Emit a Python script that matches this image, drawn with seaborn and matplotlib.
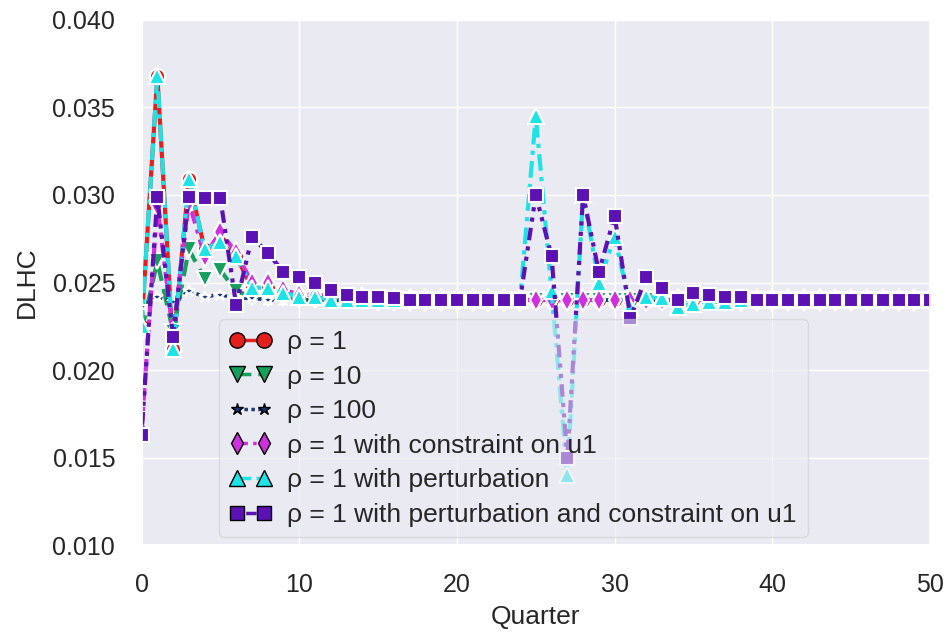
import matplotlib
matplotlib.use("Agg")
import matplotlib.pyplot as plt
from matplotlib.lines import Line2D
import seaborn as sns

# quarters 0..50
quarter = list(range(51))

rho1 = [0.0225, 0.0368, 0.0212, 0.0309, 0.0269, 0.0273, 0.0265, 0.0247, 0.0247, 0.0244,
        0.0242, 0.0242, 0.0240] + [0.0240] * 38

rho10 = [0.0222, 0.0262, 0.0222, 0.0269, 0.0252, 0.0257, 0.0245, 0.0242, 0.0241, 0.0241] + [0.0240] * 41

rho100 = [0.0236, 0.0242, 0.0239, 0.0245, 0.0242, 0.0243, 0.0241, 0.0241, 0.0240, 0.0240] + [0.0240] * 41

constr = [0.0166, 0.0294, 0.0221, 0.0296, 0.0265, 0.0279, 0.0267, 0.0250, 0.0250, 0.0246,
          0.0243, 0.0243, 0.0242, 0.0241, 0.0241] + [0.0240] * 36

pert = rho1[:25] + [0.0345, 0.0245, 0.0140, 0.0300, 0.0250, 0.0276, 0.0236, 0.0242, 0.0241,
                    0.0236, 0.0238, 0.0239, 0.0239, 0.0240] + [0.0240] * 12

pert_constr = [0.0163, 0.0299, 0.0219, 0.0299, 0.0298, 0.0298, 0.0237, 0.0276, 0.0267, 0.0256,
               0.0253, 0.0250, 0.0246, 0.0243, 0.0242, 0.0242, 0.0241, 0.0240, 0.0240, 0.0240,
               0.0240, 0.0240, 0.0240, 0.0240, 0.0240,
               0.0300, 0.0265, 0.0150, 0.0300, 0.0256, 0.0288, 0.0230, 0.0253, 0.0247, 0.0240,
               0.0244, 0.0243, 0.0242, 0.0242] + [0.0240] * 12

labels = ["ρ = 1", "ρ = 10", "ρ = 100", "ρ = 1 with constraint on u1",
          "ρ = 1 with perturbation", "ρ = 1 with perturbation and constraint on u1"]
series = [rho1, rho10, rho100, constr, pert, pert_constr]
colors = ["#e3201b", "#17a05d", "#183a78", "#cf2fdc", "#1ee3e6", "#5c12b3"]
markers = ["o", "v", "*", "d", "^", "s"]
styles = ["-", (0, (4, 2)), (0, (1, 1)), (0, (3, 1.5, 1, 1.5)), (0, (4, 1.5, 1, 1.5)),
          (0, (1, 1.5, 3, 1.5, 1, 1.5))]
msizes = [11, 11, 9, 11, 11, 10]
widths = [3, 3, 2.5, 3, 3, 3]

sns.set_theme(style="darkgrid")
plt.rcParams["font.family"] = ["Liberation Sans", "DejaVu Sans"]

fig, ax = plt.subplots(figsize=(9.5, 6.37), dpi=100)
fig.subplots_adjust(left=0.149, right=0.979, top=0.969, bottom=0.144)

for y, lab, c, m, ls, ms, w in zip(series, labels, colors, markers, styles, msizes, widths):
    sns.lineplot(x=quarter, y=y, ax=ax, color=c, marker=m, linestyle=ls, lw=w,
                 markersize=ms, markeredgecolor="white", markeredgewidth=1.5)

handles = [Line2D([], [], color=c, marker=m, linestyle=ls, lw=2.5, markersize=ms,
                  markeredgecolor="black", markeredgewidth=1)
           for c, m, ls, ms in zip(colors, markers, styles, msizes)]
ax.legend(handles, labels, numpoints=2, fontsize=19, loc="lower left",
          bbox_to_anchor=(0.088, 0.0), handlelength=1.6, handletextpad=0.6,
          labelspacing=0.4, framealpha=0.55, borderaxespad=0.3)

ax.set_xlim(0, 50)
ax.set_ylim(0.010, 0.040)
ax.set_xticks([0, 10, 20, 30, 40, 50])
ax.set_yticks([0.010, 0.015, 0.020, 0.025, 0.030, 0.035, 0.040])
ax.set_yticklabels(["0.010", "0.015", "0.020", "0.025", "0.030", "0.035", "0.040"])
ax.tick_params(axis="x", labelsize=18, pad=14)
ax.tick_params(axis="y", labelsize=18, pad=13)
ax.set_xlabel("Quarter", fontsize=19, labelpad=6)
ax.set_ylabel("DLHC", fontsize=19, labelpad=10)

fig.savefig("out.png", dpi=100)
